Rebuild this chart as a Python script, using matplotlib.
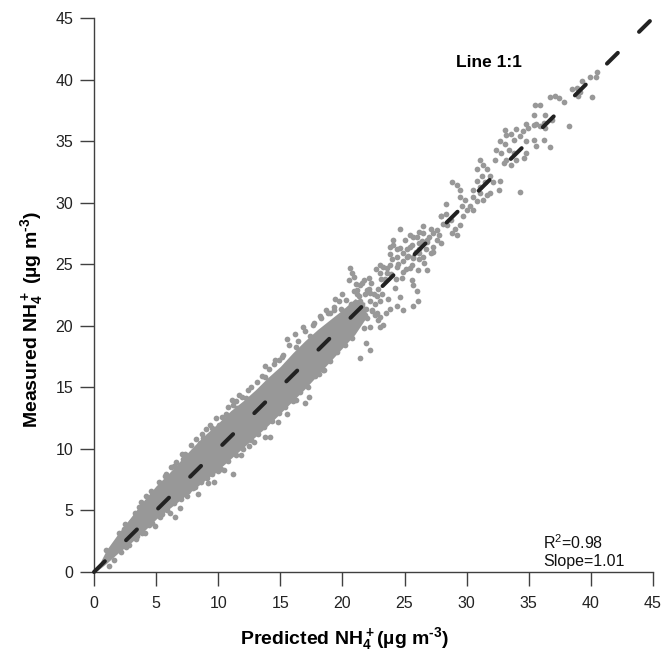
import matplotlib
matplotlib.use("Agg")
import matplotlib.pyplot as plt

plt.rcParams["font.family"] = ["Liberation Sans", "DejaVu Sans"]
plt.rcParams["mathtext.default"] = "regular"
plt.rcParams["lines.scale_dashes"] = False

# dense core of the cloud: lower / upper edge of measured vs predicted
core_x = [0.1, 0.5, 1, 2, 3, 4, 5, 6, 7, 8, 9, 10, 11, 12, 13, 14, 15, 16, 17, 18, 19, 20,
          21, 21.8]
core_lo = [0.0, 0.3, 0.7, 1.6, 2.4, 3.3, 4.3, 5.1, 5.9, 6.7, 7.5, 8.3, 9.2, 10.1, 11.0, 11.9,
           12.9, 13.9, 14.9, 16.0, 17.1, 18.2, 19.3, 20.5]
core_hi = [0.2, 0.8, 1.8, 3.2, 4.5, 5.8, 7.0, 8.0, 9.1, 10.2, 11.2, 12.1, 13.1, 13.9, 14.8, 15.8,
           16.7, 17.8, 18.8, 19.7, 20.5, 21.3, 22.2, 21.9]

# individual samples around the core and in the sparse upper range
pred = [
    1.2, 1.6, 2.2, 2.6, 1.0, 2.0, 2.4, 3.4, 3.9, 4.4, 5.5, 5.8, 6.4, 7.1, 7.5, 8.0, 9.0, 10.6, 11.5, 12.4,
    4.8, 5.3, 3.0, 3.8, 6.1, 6.7, 7.7, 8.3, 8.5, 8.9, 9.7, 9.2, 6.9, 6.5, 4.9, 6.1, 8.4,
    13.8, 11.1, 11.2, 11.7, 12.2, 10.1, 9.5, 8.8, 8.9, 7.2, 13.8, 14.5, 15.2, 16.3, 14.9,
    11.2, 13.8, 14.2, 14.8, 15.5, 16.3, 17.0, 17.3, 17.3, 18.1, 18.5,
    15.5, 16.2, 16.8, 17.4, 17.6, 18.3, 18.8, 10.5, 11.8, 12.5, 12.9, 10.0, 9.5,
    # upper edge
    2.5, 3.3, 3.6, 4.2, 4.6, 5.2, 5.7, 6.2, 6.6, 7.3, 7.8, 8.2, 8.7, 9.3, 9.8, 10.3, 10.8, 11.4,
    11.9, 12.6, 13.1, 13.5, 14.1, 14.6, 15.1, 15.7, 16.4, 17.0, 17.7, 18.2, 18.7, 19.3,
    # lower edge
    2.8, 3.5, 4.1, 4.7, 5.3, 5.9, 6.4, 7.0, 7.6, 8.1, 8.6, 9.1, 9.6, 10.2, 10.8, 11.4, 12.0, 12.6,
    13.2, 13.7, 14.3, 14.9, 15.4, 16.0, 16.6, 17.2, 17.8, 18.4, 19.0, 19.6, 20.2, 20.8,
    # 19 - 28 band
    19.5, 19.8, 20.1, 20.4, 20.7, 21.0, 21.2, 21.5, 21.8, 22.0, 22.3, 22.6, 22.9, 23.2, 23.4, 23.7,
    23.9, 24.2, 24.5, 24.8, 25.1, 25.3, 25.6, 25.9, 26.2, 26.4, 26.7, 27.0, 27.3, 27.6, 27.8, 28.1,
    20.0, 21.1, 22.7, 24.0, 25.0, 23.5, 24.6, 22.9,
    21.9, 22.2, 22.4, 22.1, 23.1, 23.6, 21.6, 20.9, 22.8, 24.3, 21.3, 23.0,
    25.4, 26.0, 26.5, 26.2, 26.8, 25.6, 25.2, 24.6, 24.1, 23.8, 24.4, 24.9, 25.7, 26.2, 26.6,
    26.1, 26.8, 25.4, 24.9, 24.4, 23.8, 23.3, 23.0, 23.6, 25.6, 25.7, 26.0, 26.1, 25.7, 24.9,
    24.4, 23.8, 23.0, 23.3, 21.4, 20.6, 20.8, 20.9,
    20.5, 21.7, 21.4, 22.1, 22.5, 21.8, 21.2, 22.8, 23.0, 22.2, 21.4, 20.9, 20.3, 19.7, 19.4,
    19.9, 19.3, 19.0, 20.2, 20.6, 21.7, 22.4, 22.6, 22.0, 21.2, 20.7, 21.7, 22.2, 23.0, 21.9, 22.2,
    24.6, 24.1, 23.8, 24.4, 24.9, 25.4, 25.7, 26.2, 26.5, 27.1, 27.3, 26.8, 27.6, 27.3, 27.9,
    26.2, 25.7, 25.2, 26.5, 27.1, 28.3, 27.9, 28.7, 28.4, 29.1, 29.5, 29.7, 28.8, 29.2,
    28.8, 29.2, 29.5, 29.9, 29.5, 30.3, 30.5, 30.0, 29.6,
    31.1, 31.3, 30.8, 31.6, 31.2, 31.9, 30.8, 31.5, 31.1, 30.5, 31.1, 31.6, 32.1, 32.7, 32.6,
    31.9, 31.3, 30.8, 30.5, 34.3,
    32.7, 33.1, 32.4, 32.8, 33.4, 33.8, 33.2, 33.6, 34.0, 34.6, 34.8, 32.3, 33.0,
    34.0, 33.6, 33.2, 34.3, 33.8, 34.8, 35.4, 35.6, 34.8, 35.4, 35.6, 35.4,
    40.5, 39.9, 40.4, 39.3, 38.9, 38.5, 39.1, 39.0, 40.1, 36.7, 37.1, 37.4, 37.8, 35.5, 35.9,
    36.3, 36.9, 38.2, 34.9, 35.9, 36.2, 36.3, 33.1, 34.5, 36.7, 36.2, 28.3, 27.9,
]
meas = [
    0.5, 1.0, 1.6, 2.0, 1.8, 3.2, 3.5, 2.7, 3.2, 3.8, 4.7, 8.0, 8.6, 9.6, 6.2, 6.8, 11.6, 12.8, 13.3, 14.8,
    6.4, 6.7, 4.1, 5.7, 7.5, 7.7, 8.4, 8.8, 10.5, 10.6, 7.3, 7.2, 5.2, 4.5, 3.7, 4.8, 6.3,
    16.7, 14.0, 13.6, 14.4, 14.1, 11.9, 11.7, 10.9, 10.5, 9.2, 15.8, 16.9, 17.6, 18.3, 17.2,
    8.0, 11.0, 11.0, 12.2, 12.8, 14.0, 13.7, 14.2, 15.7, 16.1, 16.4,
    18.9, 19.3, 19.9, 19.2, 20.1, 20.6, 21.0, 8.3, 9.5, 10.2, 10.6, 8.2, 8.0,
    # upper edge
    3.9, 4.8, 5.3, 6.2, 6.6, 7.3, 7.8, 8.5, 8.9, 9.6, 10.3, 10.8, 11.2, 11.9, 12.5, 12.6, 13.4, 13.9,
    14.2, 15.0, 15.4, 15.9, 16.5, 17.2, 17.5, 18.4, 18.8, 19.6, 20.2, 20.8, 21.3, 21.5,
    # lower edge
    2.2, 2.9, 3.2, 4.0, 4.5, 5.0, 5.6, 5.9, 6.6, 6.9, 7.3, 7.6, 8.2, 8.4, 9.0, 9.5, 10.0, 10.7,
    11.2, 11.8, 12.3, 12.9, 13.4, 13.9, 14.6, 15.0, 15.9, 16.4, 17.1, 17.9, 18.4, 19.0,
    # 19 - 28 band
    20.5, 19.6, 21.2, 20.0, 21.8, 20.8, 22.9, 21.6, 20.9, 22.9, 23.5, 21.8, 23.0, 22.6, 23.8, 22.2,
    24.2, 23.1, 25.0, 23.9, 24.6, 25.7, 24.9, 26.0, 25.4, 26.9, 26.2, 27.2, 26.0, 27.8, 27.4, 28.3,
    22.6, 23.4, 24.6, 25.4, 27.0, 21.0, 22.3, 20.5,
    21.4, 22.7, 21.2, 23.9, 23.8, 24.7, 23.5, 22.8, 21.0, 23.8, 22.4, 24.3,
    27.4, 27.2, 27.5, 26.7, 26.8, 26.6, 26.2, 26.3, 26.6, 25.8, 25.6, 25.3, 25.5, 25.9, 25.1,
    24.5, 24.5, 24.7, 24.4, 24.8, 24.9, 24.8, 24.9, 24.3, 23.7, 23.3, 22.8, 22.0, 21.6, 21.3,
    21.6, 21.4, 20.7, 20.1, 17.4, 24.7, 24.3, 24.0,
    23.7, 23.7, 23.3, 23.0, 22.6, 22.6, 22.6, 22.4, 22.0, 22.0, 22.0, 21.7, 22.1, 22.0, 22.2,
    21.4, 21.3, 21.0, 21.0, 20.7, 21.3, 21.3, 20.9, 20.6, 20.2, 19.8, 19.8, 19.9, 19.9, 18.6, 18.0,
    27.9, 27.0, 26.4, 26.2, 25.9, 26.4, 27.2, 27.6, 28.1, 27.9, 27.5, 27.0, 27.0, 26.4, 26.7,
    26.2, 25.6, 25.6, 25.6, 25.9, 29.1, 28.9, 28.6, 28.2, 27.9, 28.2, 28.9, 27.5, 27.4,
    31.7, 31.4, 31.0, 30.2, 30.5, 29.7, 29.4, 29.4, 29.7,
    33.5, 33.1, 32.7, 32.7, 32.2, 32.2, 31.8, 31.7, 31.3, 31.0, 30.8, 30.6, 31.7, 31.8, 31.0,
    30.8, 30.2, 30.1, 30.5, 30.9,
    35.0, 34.8, 34.3, 34.0, 34.3, 34.0, 33.5, 33.1, 33.5, 33.6, 34.0, 33.5, 33.2,
    36.0, 35.6, 35.5, 35.4, 35.1, 35.0, 35.1, 34.6, 36.4, 36.3, 36.4, 37.1,
    40.6, 40.2, 40.2, 39.9, 39.3, 39.2, 39.0, 38.7, 38.6, 38.6, 38.7, 38.5, 38.2, 37.9, 37.9,
    37.1, 36.7, 36.2, 36.1, 36.2, 36.5, 36.1, 35.9, 35.8, 34.5, 35.1, 29.9, 28.9,
]

line_x = [0, 45]
ticks = [0, 5, 10, 15, 20, 25, 30, 35, 40, 45]

grey = "#989898"
fig = plt.figure(figsize=(6.63, 6.58), dpi=100)
ax = fig.add_axes([94 / 663, 86 / 658, 559 / 663, 554 / 658])

ax.fill_between(core_x, core_lo, core_hi, color=grey, lw=0, zorder=2)
ax.scatter(pred, meas, s=17, color=grey, lw=0, zorder=2)
ax.plot(line_x, line_x, color="#222222", lw=2.9, dashes=(11, 21.5),
        dash_capstyle="round", zorder=3, clip_on=False)

ax.set_xlim(0, 45)
ax.set_ylim(0, 45)
ax.set_xticks(ticks)
ax.set_yticks(ticks)
for s in ["top", "right"]:
    ax.spines[s].set_visible(False)
for s in ["left", "bottom"]:
    ax.spines[s].set_color("#404040")
    ax.spines[s].set_linewidth(1.0)
ax.tick_params(direction="out", length=10, width=1.0, color="#404040",
               labelsize=11.5, labelcolor="#222222")
ax.tick_params(axis="x", pad=7)
ax.tick_params(axis="y", pad=5)

ax.set_xlabel("Predicted NH$_4^+$(µg m$^{\u20103}$)", fontsize=14, fontweight="bold")
ax.set_ylabel("Measured NH$_4^+$ (µg m$^{\u20103}$)", fontsize=14, fontweight="bold")
ax.xaxis.set_label_coords(0.449, -0.095)
ax.yaxis.set_label_coords(-0.088, 0.455)

ax.text(29.15, 41.05, "Line 1:1", fontsize=12.5, fontweight="bold")
ax.text(36.15, 1.85, "R$^2$=0.98", fontsize=11.5, color="#111111")
ax.text(36.15, 0.45, "Slope=1.01", fontsize=11.5, color="#111111")

fig.savefig("out.png", dpi=100)
